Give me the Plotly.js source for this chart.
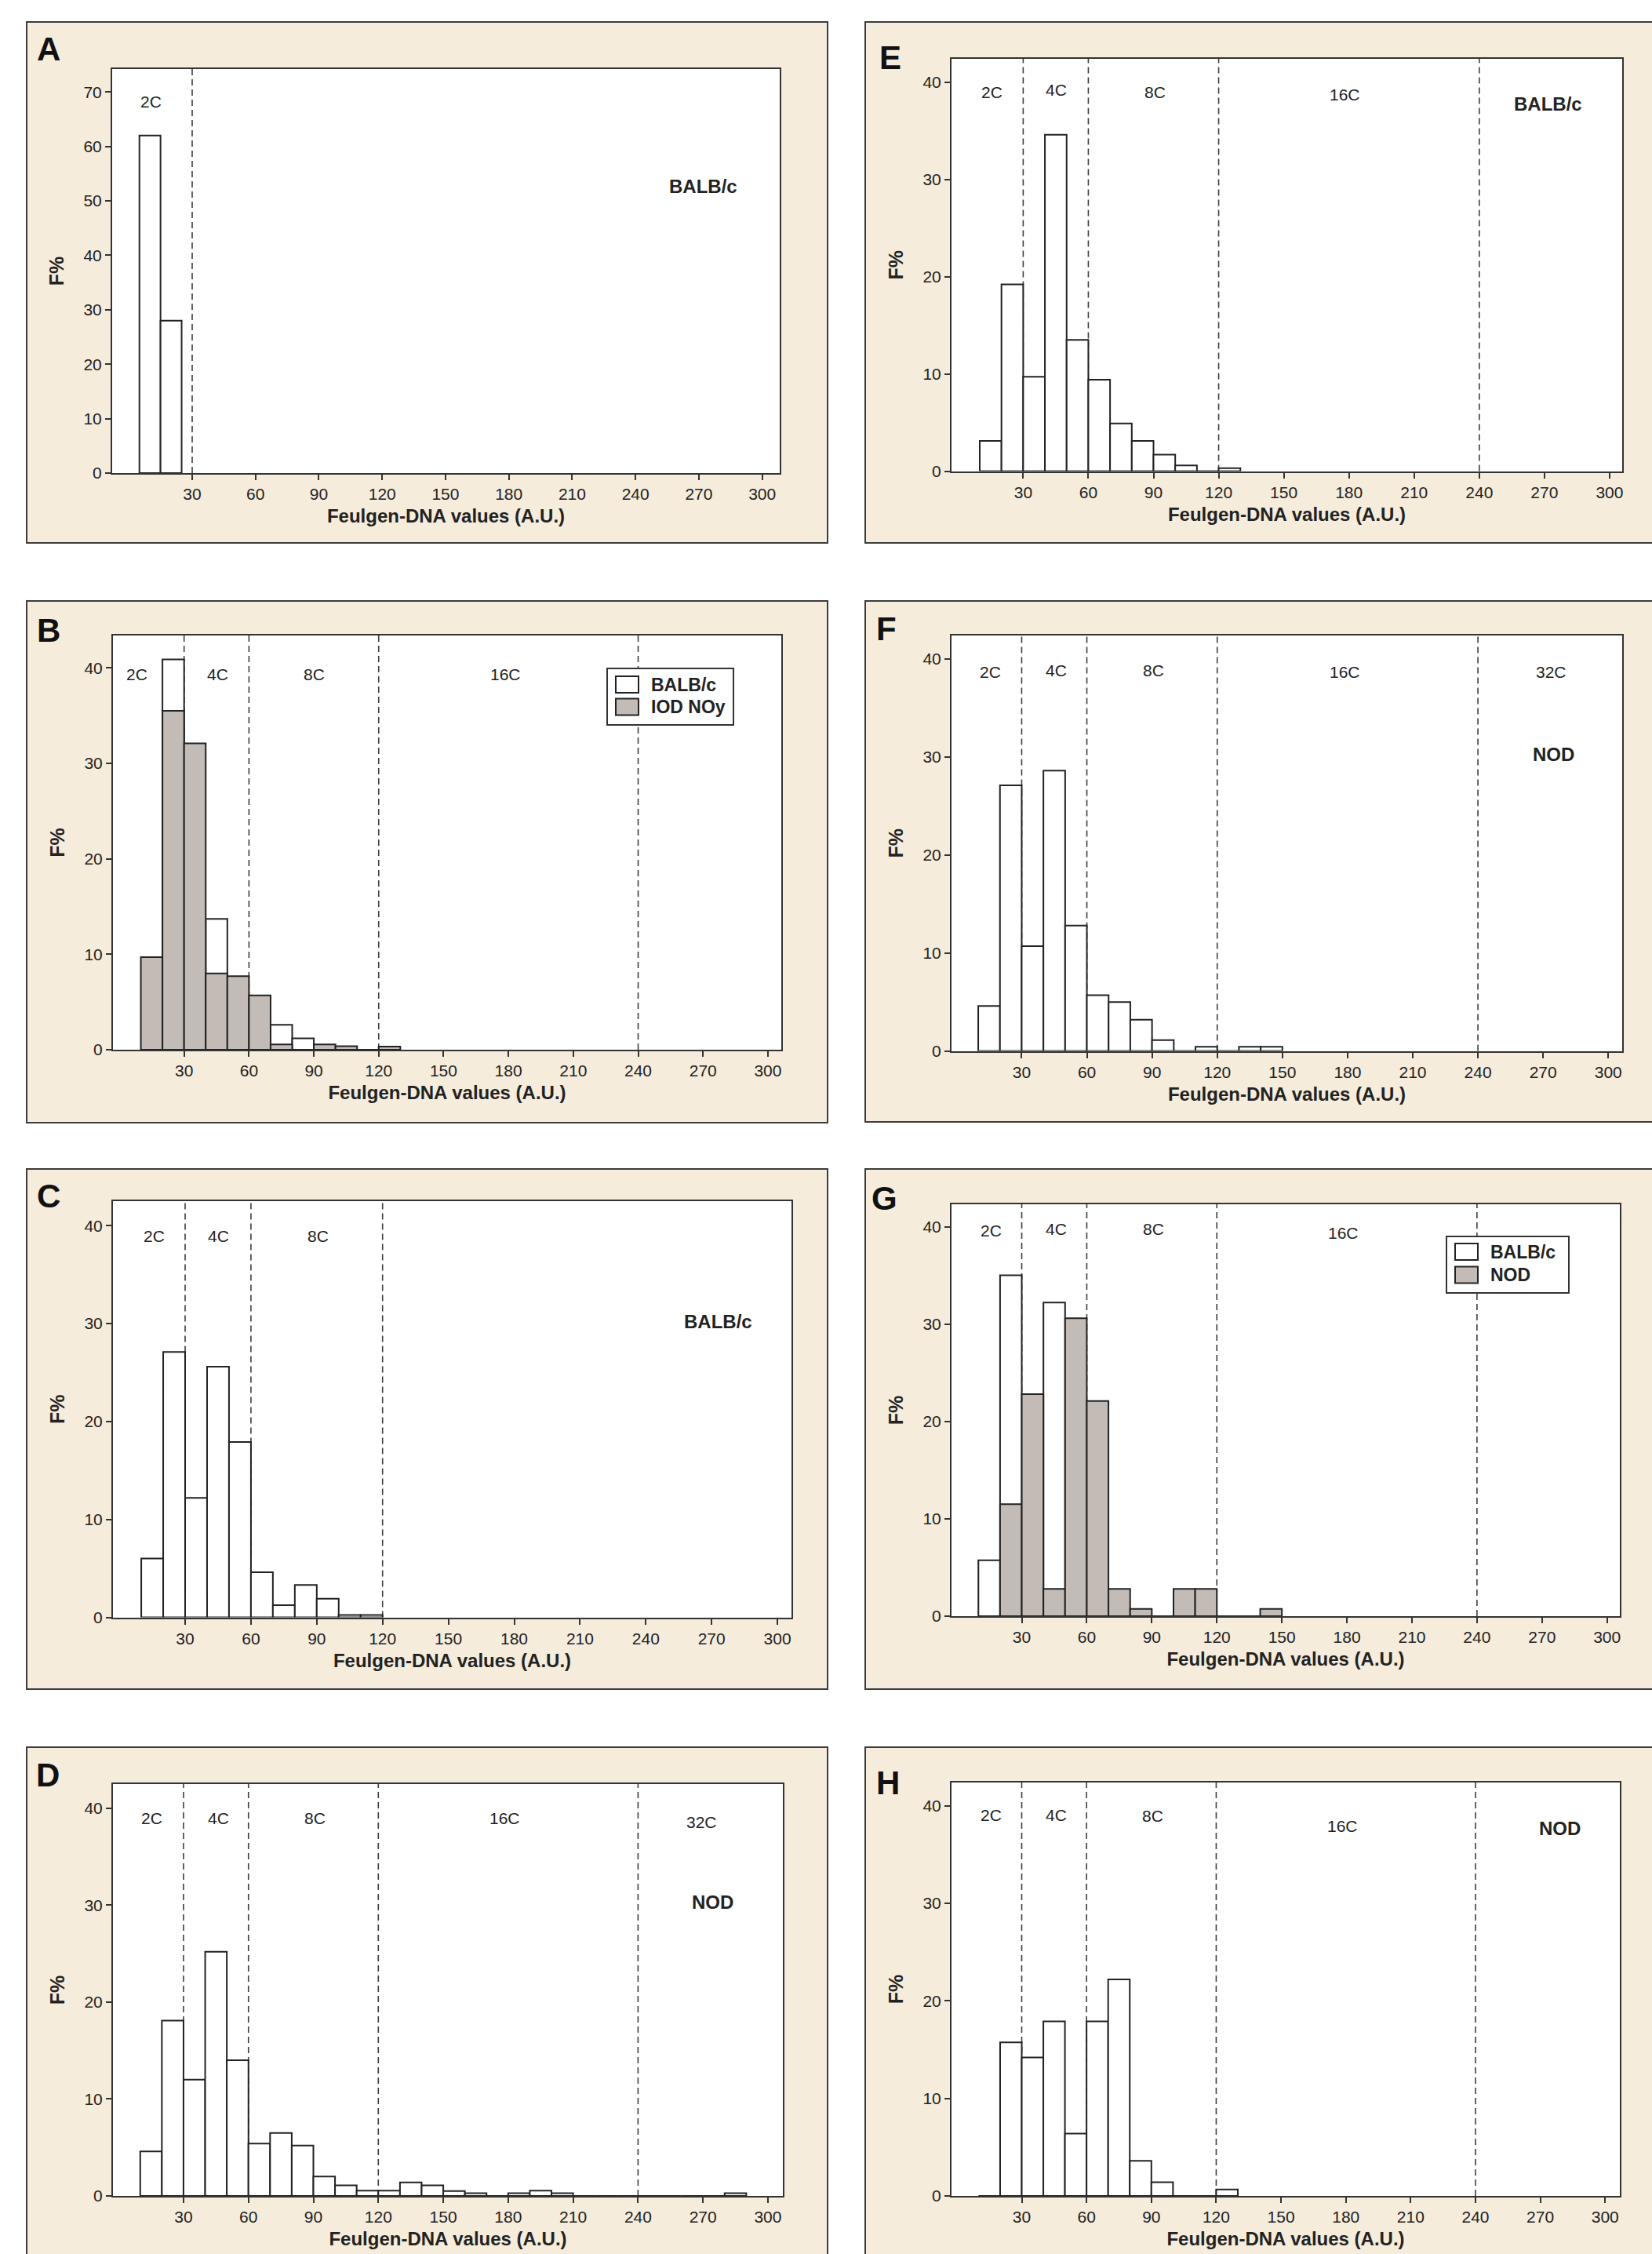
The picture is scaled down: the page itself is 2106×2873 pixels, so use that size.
<!DOCTYPE html>
<html>
<head>
<meta charset="utf-8">
<script src="https://cdn.plot.ly/plotly-3.0.1.min.js"></script>
<style>
html,body{margin:0;padding:0;background:#ffffff;}
#chart{width:2106px;height:2873px;}
</style>
</head>
<body>
<div id="chart"></div>
<script>
// ================= DATA =================
const xTickVals   = [30, 60, 90, 120, 150, 180, 210, 240, 270, 300];
const yTickValsA  = [0, 10, 20, 30, 40, 50, 60, 70];
const yTickVals   = [0, 10, 20, 30, 40];
const boundsA     = [30];
const boundsC     = [30, 60, 120];
const boundsAll   = [30, 60, 120, 240];

// Panel A  (BALB/c)
const binsA = [10, 20];
const balbA = [62, 28];

// Panel B  (BALB/c vs IOD NOy) - null: hidden behind the grey bar
const binsB = [15, 25, 35, 45, 55, 65, 75, 85, 95, 105, 115, 125];
const balbB = [null, 40.9, null, 13.7, null, null, 2.6, 1.2, null, null, null, null];
const iodB  = [9.7, 35.5, 32.1, 8.0, 7.7, 5.7, 0.55, 0, 0.55, 0.37, 0, 0.33];

// Panel C  (BALB/c)
const binsC = [15, 25, 35, 45, 55, 65, 75, 85, 95, 105, 115];
const balbC = [6.0, 27.1, 12.2, 25.6, 17.9, 4.6, 1.25, 3.3, 1.9, 0.25, 0.25];

// Panel D  (NOD)
const binsD = [15, 25, 35, 45, 55, 65, 75, 85, 95, 105, 115, 125, 135, 145, 155, 165, 175, 185, 195, 205, 215, 225, 235, 245, 255, 265, 275, 285];
const nodD  = [4.6, 18.1, 12.0, 25.2, 14.0, 5.4, 6.5, 5.2, 2.0, 1.1, 0.55, 0.55, 1.4, 1.1, 0.5, 0.28, 0, 0.28, 0.55, 0.28, 0, 0, 0, 0, 0, 0, 0, 0.28];

// Panel E  (BALB/c)
const binsE = [15, 25, 35, 45, 55, 65, 75, 85, 95, 105, 115, 125];
const balbE = [3.1, 19.2, 9.7, 34.6, 13.5, 9.4, 4.9, 3.1, 1.7, 0.58, 0, 0.3];

// Panel F  (NOD)
const binsF = [15, 25, 35, 45, 55, 65, 75, 85, 95, 105, 115, 125, 135, 145];
const nodF  = [4.6, 27.1, 10.7, 28.6, 12.8, 5.7, 5.0, 3.2, 1.1, 0, 0.43, 0, 0.43, 0.43];

// Panel G  (BALB/c vs NOD) - null: hidden behind the grey bar
const binsG = [15, 25, 35, 45, 55, 65, 75, 85, 95, 105, 115, 125, 135, 145];
const balbG = [5.75, 35.0, null, 32.2, null, null, null, null, null, null, null, null, null, null];
const nodG  = [0, 11.5, 22.8, 2.8, 30.6, 22.1, 2.8, 0.75, 0, 2.8, 2.8, 0, 0, 0.75];

// Panel H  (NOD)
const binsH = [15, 25, 35, 45, 55, 65, 75, 85, 95, 105, 115, 125];
const nodH  = [0, 15.75, 14.2, 17.9, 6.4, 17.9, 22.2, 3.6, 1.4, 0, 0, 0.66];

const xTitle = 'Feulgen-DNA values (A.U.)';
const yTitle = 'F%';

// ================= STYLE / LAYOUT CONFIG =================
const W = 2106, H = 2873;
const FONT  = 'Liberation Sans, Arial, Helvetica, sans-serif';
const INK   = '#222222';
const BEIGE = '#f5ecdc';
const WHITE = '#ffffff';
const GREY  = '#c3bbb5';
const px = v => v / W;
const py = v => 1 - v / H;

const panels = [
  {letter:'A', lpos:[62,62],    frame:[34,28,1055,692],     plot:[143,88,994,603],
   xr:[-7.9,308.3], yr:[0,74.2], yt:yTickValsA, bounds:boundsA,
   series:[{name:'BALB/c', x:binsA, y:balbA, fill:WHITE}],
   regions:[['2C',10.6,68.2]], strain:['BALB/c',272,52.6]},
  {letter:'B', lpos:[62,804],   frame:[34,766,1055,1431],   plot:[144,810,996,1338],
   xr:[-2.9,306.2], yr:[0,43.4], yt:yTickVals, bounds:boundsAll,
   series:[{name:'BALB/c', x:binsB, y:balbB, fill:WHITE},{name:'IOD NOy', x:binsB, y:iodB, fill:GREY}],
   regions:[['2C',8.2,39.3],['4C',45.5,39.3],['8C',90.1,39.3],['16C',178.6,39.3]],
   legend:{box:[774,852,935,924], rows:[872.5,901]}},
  {letter:'C', lpos:[62,1524],  frame:[34,1490,1055,2153],  plot:[144,1531,1009,2061.5],
   xr:[-2.9,306.4], yr:[0,42.5], yt:yTickVals, bounds:boundsC,
   series:[{name:'BALB/c', x:binsC, y:balbC, fill:WHITE}],
   regions:[['2C',15.7,38.9],['4C',45.2,38.9],['8C',90.7,38.9]], strain:['BALB/c',273,30.2]},
  {letter:'D', lpos:[61,2262],  frame:[34,2227,1055,2910],  plot:[144,2274,998,2799],
   xr:[-2.6,306.9], yr:[0,42.5], yt:yTickVals, bounds:boundsAll,
   series:[{name:'NOD', x:binsD, y:nodD, fill:WHITE}],
   regions:[['2C',15.5,39],['4C',46.2,39],['8C',90.7,39],['16C',178.6,39],['32C',269.4,38.6]], strain:['NOD',274.3,30.3]},
  {letter:'E', lpos:[1135,73],  frame:[1103,28,2130,692],   plot:[1213,75,2068,600.5],
   xr:[-3.0,305.8], yr:[0,42.4], yt:yTickVals, bounds:boundsAll,
   series:[{name:'BALB/c', x:binsE, y:balbE, fill:WHITE}],
   regions:[['2C',15.6,39],['4C',45.1,39.2],['8C',90.7,39],['16C',178.2,38.7]], strain:['BALB/c',271.5,37.8]},
  {letter:'F', lpos:[1130,801], frame:[1103,766,2130,1430], plot:[1213,810,2068,1339.6],
   xr:[-2.3,306.4], yr:[0,42.4], yt:yTickVals, bounds:boundsAll,
   series:[{name:'NOD', x:binsF, y:nodF, fill:WHITE}],
   regions:[['2C',15.7,38.7],['4C',45.8,38.8],['8C',90.7,38.8],['16C',178.8,38.7],['32C',273.8,38.7]], strain:['NOD',274.8,30.3]},
  {letter:'G', lpos:[1127,1527],frame:[1103,1490,2130,2153], plot:[1213,1535,2065,2060],
   xr:[-2.4,305.9], yr:[0,42.3], yt:yTickVals, bounds:boundsAll,
   series:[{name:'BALB/c', x:binsG, y:balbG, fill:WHITE},{name:'NOD', x:binsG, y:nodG, fill:GREY}],
   regions:[['2C',15.7,39.6],['4C',45.8,39.8],['8C',90.9,39.8],['16C',178.3,39.35]],
   legend:{box:[1844,1576,2000,1648], rows:[1595.5,1625]}},
  {letter:'H', lpos:[1132,2272],frame:[1103,2227,2130,2910], plot:[1213,2272,2065,2799],
   xr:[-2.5,306.8], yr:[0,42.4], yt:yTickVals, bounds:boundsAll,
   series:[{name:'NOD', x:binsH, y:nodH, fill:WHITE}],
   regions:[['2C',15.7,39.1],['4C',45.8,39.1],['8C',90.6,39.0],['16C',178.3,37.96]], strain:['NOD',278.9,37.7]}
];

// ================= BUILD FIGURE =================
const traces = [];
const layout = {
  width: W, height: H,
  margin: {l:0, r:0, t:0, b:0, pad:0},
  paper_bgcolor: WHITE,
  plot_bgcolor: 'rgba(0,0,0,0)',
  barmode: 'overlay',
  showlegend: false,
  font: {family: FONT, color: INK},
  shapes: [],
  annotations: []
};

// beige panel backgrounds first
panels.forEach(p => {
  const f = p.frame;
  layout.shapes.push({type:'rect', xref:'paper', yref:'paper', layer:'below',
    x0:px(f[0]), x1:px(f[2]), y0:py(f[3]), y1:py(f[1]),
    fillcolor:BEIGE, line:{color:'#3c3c3c', width:2}});
});

panels.forEach((p, i) => {
  const s = i === 0 ? '' : String(i + 1);
  const xa = 'x' + s, ya = 'y' + s;
  const pl = p.plot;

  layout['xaxis' + s] = {
    domain:[px(pl[0]), px(pl[2])], range:p.xr, anchor:ya,
    tickmode:'array', tickvals:xTickVals, ticktext:xTickVals.map(String),
    ticks:'outside', ticklen:7, tickwidth:2, tickcolor:'#333',
    showline:true, linecolor:'#333', linewidth:2, mirror:true,
    showgrid:false, zeroline:false, fixedrange:true,
    tickfont:{family:FONT, size:21, color:INK},
    title:{text:xTitle, font:{family:FONT, size:24, color:INK, weight:700}, standoff:9}
  };
  layout['yaxis' + s] = {
    domain:[py(pl[3]), py(pl[1])], range:p.yr, anchor:xa,
    tickmode:'array', tickvals:p.yt, ticktext:p.yt.map(String),
    ticks:'outside', ticklen:7, tickwidth:2, tickcolor:'#333',
    showline:true, linecolor:'#333', linewidth:2, mirror:true,
    showgrid:false, zeroline:false, fixedrange:true,
    tickfont:{family:FONT, size:21, color:INK},
    title:{text:yTitle, font:{family:FONT, size:25, color:INK, weight:700}, standoff:18}
  };

  // white plotting area
  layout.shapes.push({type:'rect', xref:xa + ' domain', yref:ya + ' domain', layer:'below',
    x0:0, x1:1, y0:0, y1:1, fillcolor:WHITE, line:{width:0}});

  // ploidy boundaries (dashed)
  p.bounds.forEach(b => {
    layout.shapes.push({type:'line', xref:xa, yref:ya + ' domain', layer:'below',
      x0:b, x1:b, y0:0, y1:1, line:{color:'#3e3e3e', width:1.6, dash:'8px,5px'}});
  });

  // bars
  p.series.forEach(se => {
    traces.push({type:'bar', name:se.name, x:se.x, y:se.y, width:10,
      xaxis:xa, yaxis:ya,
      marker:{color:se.fill, line:{color:'#222', width:2}},
      hoverinfo:'x+y+name'});
  });

  // region labels (2C, 4C, ...)
  p.regions.forEach(r => {
    layout.annotations.push({text:r[0], x:r[1], y:r[2], xref:xa, yref:ya,
      showarrow:false, xanchor:'center', yanchor:'middle',
      font:{family:FONT, size:21, color:INK}});
  });

  // strain label
  if (p.strain) {
    layout.annotations.push({text:p.strain[0], x:p.strain[1], y:p.strain[2], xref:xa, yref:ya,
      showarrow:false, xanchor:'center', yanchor:'middle',
      font:{family:FONT, size:24, color:INK, weight:700}});
  }

  // panel letter
  layout.annotations.push({text:p.letter, x:px(p.lpos[0]), y:py(p.lpos[1]), xref:'paper', yref:'paper',
    showarrow:false, xanchor:'center', yanchor:'middle',
    font:{family:FONT, size:42, color:'#111', weight:700}});

  // manual legend box
  if (p.legend) {
    const b = p.legend.box;
    layout.shapes.push({type:'rect', xref:'paper', yref:'paper', layer:'above',
      x0:px(b[0]), x1:px(b[2]), y0:py(b[3]), y1:py(b[1]),
      fillcolor:WHITE, line:{color:'#333', width:2}});
    p.series.forEach((se, k) => {
      const cy = p.legend.rows[k];
      layout.shapes.push({type:'rect', xref:'paper', yref:'paper', layer:'above',
        x0:px(b[0] + 11), x1:px(b[0] + 40), y0:py(cy + 10.5), y1:py(cy - 10.5),
        fillcolor:se.fill, line:{color:'#222', width:2}});
      layout.annotations.push({text:se.name, x:px(b[0] + 54), y:py(cy), xref:'paper', yref:'paper',
        showarrow:false, xanchor:'left', yanchor:'middle',
        font:{family:FONT, size:23, color:INK, weight:700}});
    });
  }
});

Plotly.newPlot('chart', traces, layout, {staticPlot:true, displayModeBar:false});
</script>
</body>
</html>
